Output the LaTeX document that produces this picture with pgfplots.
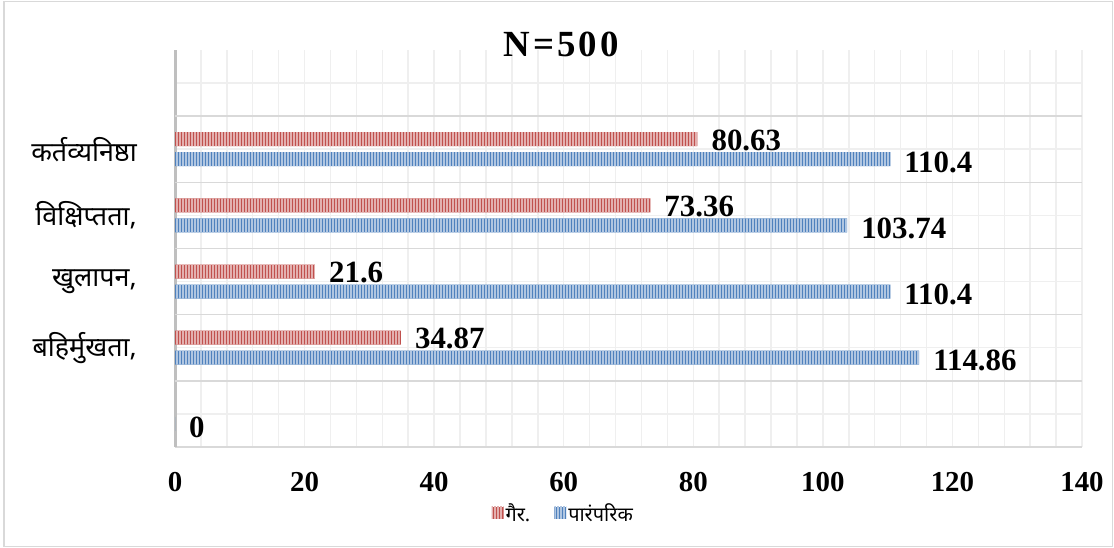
\documentclass[border=0pt]{standalone}
\usepackage{pgfplots}
\pgfplotsset{compat=1.18}
\usepackage{fontspec}
\setmainfont{Liberation Serif}
\newfontfamily\hindi[Script=Devanagari]{Noto Sans}
\usetikzlibrary{patterns.meta}
\definecolor{redbar}{HTML}{C0504D}
\definecolor{bluebar}{HTML}{4F81BD}
\definecolor{gridl}{HTML}{EFEFEF}
\definecolor{gridd}{HTML}{D9D9D9}
\begin{document}
\begin{tikzpicture}[x=1bp,y=1bp]
\useasboundingbox (0,0) rectangle (1114,548);
\draw[gridd, line width=1.5bp] (4,1.5) rectangle (1112.5,546.5);
\begin{axis}[
  at={(175bp,101bp)}, anchor=south west,
  width=907bp, height=397bp, scale only axis,
  xmin=0, xmax=140, ymin=-0.5, ymax=5.5,
  axis x line*=bottom, axis y line*=left,
  x axis line style={gridd, line width=2bp, -},
  y axis line style={black!25, line width=3bp, -},
  xtick={0,20,...,140},
  minor xtick={0,4,...,140},
  ytick={0,1,2,3,4,5},
  yticklabels={,{बहिर्मुखता,\hspace{-10bp}},{खुलापन,},{विक्षिप्तता,},{कर्तव्यनिष्ठा},},
  extra y ticks={0.5,1.5,2.5,3.5,4.5},
  extra y tick labels={},
  extra y tick style={grid style={gridd, line width=1.5bp}},
  major tick length=0pt, minor tick length=0pt,
  xmajorgrids, xminorgrids, ymajorgrids,
  grid style={gridl, line width=1.5bp},
  minor grid style={gridl, line width=1.5bp},
  /pgf/number format/assume math mode=true,
  xticklabel style={anchor=north, inner sep=0pt, yshift=-25bp, font=\bfseries\fontsize{29}{32}\selectfont},
  yticklabel style={anchor=east, inner sep=0pt, xshift=-38bp, font=\hindi\fontsize{27}{31}\selectfont},
  point meta=explicit symbolic,
  nodes near coords,
  every node near coord/.append style={anchor=west, inner sep=0pt, xshift=14bp, text=black, font=\bfseries\fontsize{31}{34}\selectfont},
  legend style={at={(0.428,-0.166)}, anchor=center, legend columns=2, draw=none, fill=none,
    font=\hindi\fontsize{20}{24}\selectfont,
    /tikz/every even column/.append style={column sep=22bp}},
  legend image code/.code={\fill[#1] (0bp,-6bp) rectangle (12bp,6bp);},
]
\addplot[xbar, bar width=14bp, bar shift=10bp, fill=redbar, draw=none,
  postaction={pattern={Lines[angle=90,distance=3bp,line width=1.3bp]}, pattern color=redbar!45!white},
  every node near coord/.append style={yshift=9bp}]
  coordinates {(34.87,1) [34.87] (21.6,2) [21.6] (73.36,3) [73.36] (80.63,4) [80.63]};
\addlegendentry{गैर.}
\addplot[xbar, bar width=14bp, bar shift=-10bp, fill=bluebar, draw=none,
  postaction={pattern={Lines[angle=90,distance=3bp,line width=1.3bp]}, pattern color=bluebar!45!white},
  every node near coord/.append style={yshift=-13bp}]
  coordinates {(0,0) [0] (114.86,1) [114.86] (110.4,2) [110.4] (103.74,3) [103.74] (110.4,4) [110.4]};
\addlegendentry{पारंपरिक}
\end{axis}
\node[font=\bfseries\fontsize{37}{40}\selectfont, inner sep=0pt] at (561,503.5) {N\kern3bp=\kern3bp5\kern3bp0\kern3bp0};
\end{tikzpicture}
\end{document}
